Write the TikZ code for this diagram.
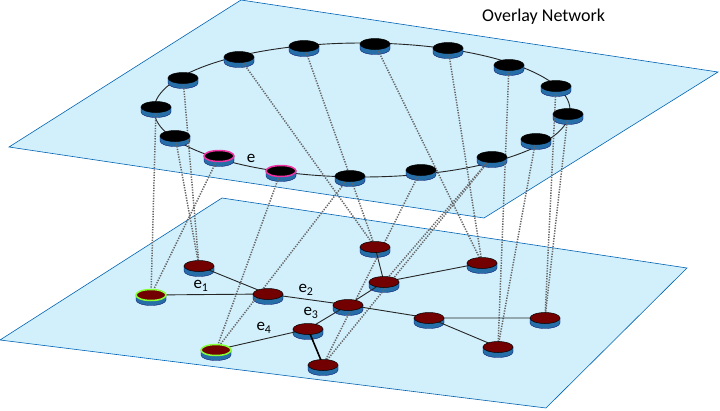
\documentclass[tikz,border=0pt]{standalone}
\usepackage{fontspec}
\setmainfont{Carlito}
\begin{document}
\begin{tikzpicture}[x=1pt,y=-1pt,
  plane/.style={fill=cyan!18!white,draw=blue!45!cyan!70!black,line width=0.6pt},
  map/.style={dash pattern=on 1.3pt off 1.3pt,gray!80!black,line width=1.5pt},
  link/.style={black!85,line width=0.9pt},
  lbl/.style={font=\fontsize{17}{17}\selectfont,inner sep=0pt},
  base/.style={fill=blue!45!cyan!60!black!85,draw=blue!40!black,line width=0.3pt},
  disk/.style={shape=ellipse,minimum width=30pt,minimum height=11pt,inner sep=0pt,line width=0.5pt,draw=black},
  ov/.style={disk,fill=black},
  ph/.style={disk,fill=red!45!black},
  pk/.style={disk,fill=black,draw=magenta!80!white,line width=1.5pt},
  gr/.style={disk,fill=red!45!black,draw=green!60!yellow!80!white,line width=1.5pt}]
\usetikzlibrary{shapes.geometric}
\useasboundingbox (0,0) rectangle (720,410);
% planes
\path[plane] (222,198) -- (687,268) -- (546,408) -- (0,340) -- cycle;
\path[plane] (241,0) -- (718,72) -- (484,218) -- (9,147) -- cycle;
\node[lbl,anchor=west,font=\fontsize{18}{18}\selectfont] (title) at (482,17) {Overlay Network};
% ring
\draw[link] (362,110) ellipse [x radius=208,y radius=67];
% coordinates and disk sides
\foreach \n/\x/\y in {r1/304/46,r2/375/44,r3/448/48,r4/509/65,r5/556/86,r6/568/114,r7/536/139,r8/492/157,r9/421/170,r10/350/176,r11/281/171,r12/219/156,r13/175/136,r14/156/107,r15/183/78,r16/239/57,
  A/375/247,B/482/263,C/199/266,D/384/282,G1/151/295,F/268/294,H/348/305,I/429/318,J/545/318,K/308/329,G2/216/350,L/498/347,M/323/365}
  {\coordinate (c\n) at (\x,\y);
   \path[base] (\x-15,\y) -- (\x-15,\y+5) arc[start angle=180,end angle=0,x radius=15,y radius=5.5] -- (\x+15,\y) -- cycle;}
% mapping lines
\foreach \a/\b in {r14/G1,r12/G1,r13/C,r15/C,r11/G2,r10/G2,r16/A,r1/A,r2/B,r3/B,r4/L,r7/L,r5/J,r6/J,r9/M,r8/D,r8/M}
  \draw[map] (c\a) -- (c\b);
% physical edges
\draw[link] (cC) -- (cF) (cG1) -- (cF) (cF) -- (cH) -- (cI) (cA) -- (cD) (cD) -- (cB) (cD) -- (cH) (cH) -- (cK) (cK) -- (cG2) (cI) -- (cJ) (cI) -- (cL);
\draw[black,line width=1.6pt] (cK) -- (cM);
% nodes
\foreach \n in {r1,r2,r3,r4,r5,r6,r7,r8,r9,r10,r13,r14,r15,r16} \node[ov] (\n) at (c\n) {};
\foreach \n in {r11,r12} \node[pk] (\n) at (c\n) {};
\foreach \n in {A,B,C,D,F,H,I,J,K,L,M} \node[ph] (\n) at (c\n) {};
\foreach \n in {G1,G2} \node[gr] (\n) at (c\n) {};
% labels
\node[lbl] (le) at (251,158) {e};
\node[lbl] (le1) at (201,286) {e\textsubscript{1}};
\node[lbl] (le2) at (306,290) {e\textsubscript{2}};
\node[lbl] (le3) at (311,313) {e\textsubscript{3}};
\node[lbl] (le4) at (264,328) {e\textsubscript{4}};
\end{tikzpicture}
\end{document}
